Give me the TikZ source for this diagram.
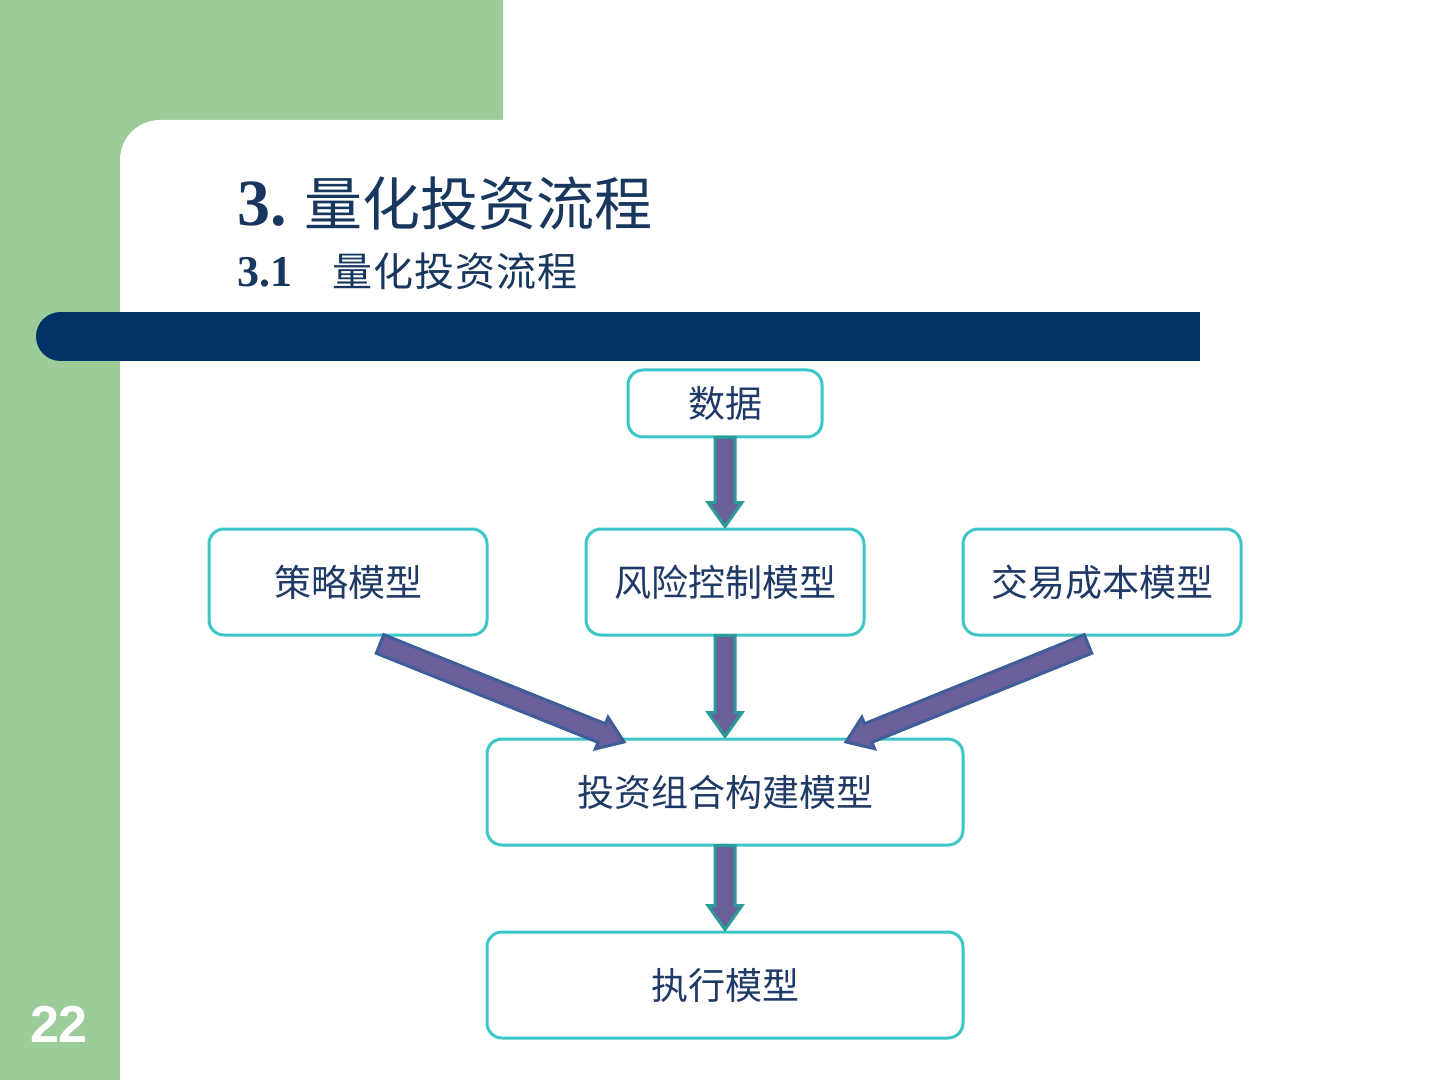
\documentclass[tikz,border=0pt]{standalone}
\usepackage{fontspec}
\setmainfont{Liberation Serif}
\newfontfamily\cjk{Noto Sans CJK SC}
\newfontfamily\numfont{Liberation Sans}
\usetikzlibrary{calc}
\definecolor{slgreen}{HTML}{9BCC99}
\definecolor{slnavy}{HTML}{003366}
\definecolor{boxline}{HTML}{3CC6C8}
\definecolor{arrfill}{HTML}{6A5F9B}
\definecolor{arrteal}{HTML}{2C9A9A}
\definecolor{arrblue}{HTML}{3D5E99}
\definecolor{txtnavy}{HTML}{1F3A66}
\definecolor{titlenavy}{HTML}{17375E}
\tikzset{
  flowbox/.style={draw=boxline, line width=1.5pt, rounded corners=7.5pt, fill=white,
    text=txtnavy, font=\cjk\fontsize{18.5pt}{20pt}\selectfont, inner sep=0pt},
  smallbox/.style={flowbox, minimum width=97pt, minimum height=33.5pt},
  midbox/.style={flowbox, minimum width=139pt, minimum height=53pt},
  widebox/.style={flowbox, minimum width=238pt, minimum height=53pt},
  vblock/.style={fill=arrfill, draw=arrteal, line width=1.5pt},
  dblock/.style={fill=arrfill, draw=arrblue, line width=1.5pt},
}
% block arrow: style, from, to
\newcommand\blockarr[3]{%
  \coordinate (bah) at ($(#3)!12pt!(#2)$);
  \draw[#1] ($(#2)!5pt!90:(#3)$) -- ($(bah)!5pt!90:(#3)$) -- ($(bah)!8.5pt!90:(#3)$)
    -- (#3) -- ($(bah)!8.5pt!-90:(#3)$) -- ($(bah)!5pt!-90:(#3)$) -- ($(#2)!5pt!-90:(#3)$) -- cycle;
}
\begin{document}
\begin{tikzpicture}[x=0.5pt,y=-0.5pt]
\useasboundingbox (0,0) rectangle (1440,1080);
\clip (0,0) rectangle (1440,1080);
\fill[white] (0,0) rectangle (1440,1080);
% green frame
\fill[slgreen] (0,0) rectangle (503,200);
\fill[slgreen] (0,0) rectangle (120,1080);
\fill[white] (120,1100) -- (120,160) arc[start angle=180, end angle=90, radius=20pt] -- (1500,120) -- (1500,1100) -- cycle;
% navy bar
\fill[slnavy] (60.5,312) rectangle (1200,361);
\fill[slnavy] (60.5,336.5) circle (12.25pt);
% titles
\node[anchor=base west, inner sep=0pt, text=titlenavy] (title) at (237,226)
  {\fontsize{33pt}{34pt}\selectfont\bfseries 3.\hspace{9pt}\cjk\mdseries\fontsize{29pt}{32pt}\selectfont 量化投资流程};
\node[anchor=base west, inner sep=0pt, text=titlenavy] (subtitle) at (237,287)
  {\fontsize{22pt}{24pt}\selectfont\bfseries 3.1};
\node[anchor=base west, inner sep=0pt, text=titlenavy, font=\cjk\fontsize{20pt}{22pt}\selectfont] (subtitle2) at (332,287)
  {量\hspace{0.5pt}化\hspace{0.5pt}投\hspace{0.5pt}资\hspace{0.5pt}流\hspace{0.5pt}程};
% page number
\node[text=white, font=\numfont\bfseries\fontsize{26pt}{28pt}\selectfont, inner sep=0pt] (pnum) at (59,1024) {22};
% boxes
\node[smallbox] (data) at (725,403.5) {数据};
\node[midbox] (strat) at (348,582) {策略模型};
\node[midbox] (risk) at (725,582) {风险控制模型};
\node[midbox] (cost) at (1102,582) {交易成本模型};
\node[widebox] (port) at (725,792) {投资组合构建模型};
\node[widebox] (exec) at (725,985) {执行模型};
% arrow end points
\coordinate (t1) at (380,644);
\coordinate (p1) at (624,742);
\coordinate (t2) at (1088,644);
\coordinate (p2) at (846,742);
\coordinate (d0) at ($(data.south)+(0,-1)$);
\coordinate (d1) at ($(risk.north)+(0,-1)$);
\coordinate (r0) at ($(risk.south)+(0,-1)$);
\coordinate (r1) at ($(port.north)+(0,-1)$);
\coordinate (q0) at ($(port.south)+(0,-1)$);
\coordinate (q1) at ($(exec.north)+(0,-1)$);
% arrows
\blockarr{vblock}{d0}{d1}
\blockarr{vblock}{r0}{r1}
\blockarr{vblock}{q0}{q1}
\blockarr{dblock}{t1}{p1}
\blockarr{dblock}{t2}{p2}
\end{tikzpicture}
\end{document}
